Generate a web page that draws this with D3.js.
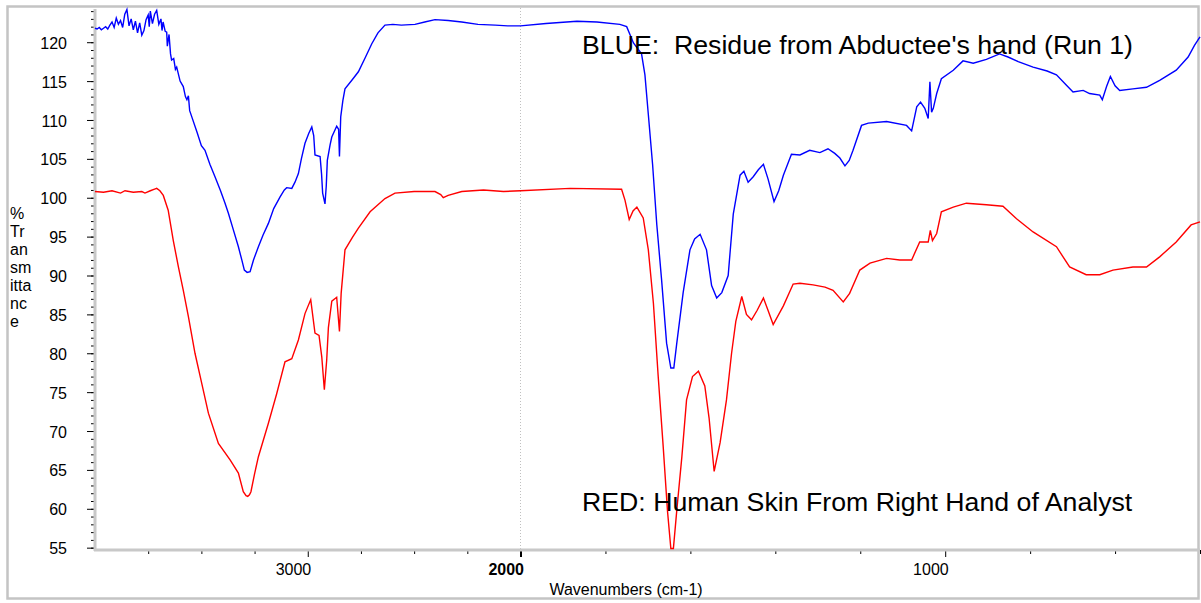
<!DOCTYPE html>
<html lang="en">
<head>
<meta charset="UTF-8">
<style>
    body { margin: 0; background: #fff; }
    svg { display: block; font-family: "Liberation Sans", Arial, sans-serif; }
    .tick text { font-size: 16px; fill: #000; }
</style>
</head>
<body>
<svg width="1201" height="603"></svg>
<script src="https://d3js.org/d3.v7.min.js"></script>
<script>

// ---- data ----
var blueWave = [4000,3990,3980,3970,3960,3950,3940,3930,3920,3910,3900,3890,3880,3870,3860,3850,3840,3830,3820,3810,3800,3790,3780,3770,3760,3750,3745,3740,3730,3720,3710,3700,3690,3685,3680,3670,3663,3660,3652,3645,3640,3630,3622,3616,3600,3585,3575,3568,3561,3555,3545,3520,3500,3483,3460,3436,3410,3390,3373,3350,3326,3310,3298,3285,3271,3255,3232,3210,3185,3160,3130,3110,3099,3075,3060,3044,3030,3013,2995,2981,2972,2966,2942,2935,2930,2919,2913,2908,2895,2887,2864,2855,2851,2845,2835,2825,2790,2762,2730,2699,2670,2637,2600,2560,2496,2450,2402,2340,2276,2200,2119,2060,2000,1940,1867,1820,1766,1750,1734,1715,1707,1699,1689,1679,1668,1656,1646,1639,1632,1617,1601,1590,1577,1562,1550,1538,1526,1511,1499,1483,1474,1464,1452,1440,1428,1417,1403,1392,1381,1362,1342,1319,1295,1276,1260,1248,1236,1226,1217,1197,1181,1138,1091,1079,1067,1058,1048,1040,1036,1032,1028,1020,1009,981,958,934,903,872,852,828,793,760,738,715,699,675,660,636,630,620,611,600,589,558,526,495,456,428,413,400];
var blueT = [121.8,121.7,121.9,121.6,121.8,122.0,121.7,122.2,122.6,121.9,123.1,122.3,122.8,121.9,123.6,124.2,122.1,123.0,121.6,122.7,121.2,122.5,120.9,121.5,122.9,123.5,122.0,124.0,122.4,123.6,124.1,122.3,123.0,121.5,122.6,121.4,121.3,119.5,121.0,118.5,117.7,117.9,116.5,116.8,115.0,114.3,113.0,112.6,113.1,111.2,110.4,108.4,106.7,106.1,104.3,102.7,100.9,99.4,98.0,95.9,93.7,92.0,90.7,90.4,90.5,92.0,93.7,95.2,96.7,98.6,100.1,101.0,101.3,101.2,102.0,103.1,105.0,107.0,108.3,109.1,108.0,105.5,105.3,103.0,100.6,99.2,101.5,104.8,106.8,107.8,109.2,108.8,105.3,110.4,112.5,114.0,115.2,116.2,118.0,119.8,121.2,122.2,122.3,122.2,122.3,122.6,122.9,122.8,122.6,122.3,122.2,122.1,122.1,122.4,122.7,122.6,122.3,122.0,119.9,118.5,115.8,110.7,104.3,96.5,89.6,81.3,78.1,78.1,81.3,87.8,93.3,94.7,95.3,93.3,88.7,87.1,87.8,90.0,97.9,102.9,103.4,102.0,102.7,103.6,104.3,102.4,99.5,100.9,102.9,105.6,105.5,106.1,105.8,106.3,105.7,105.1,104.1,104.8,106.1,109.3,109.6,109.8,109.3,108.6,111.7,112.3,111.5,110.2,114.9,111.0,111.5,113.4,115.3,116.4,117.6,117.3,117.8,118.5,118.1,117.5,116.8,116.3,115.8,114.5,113.6,113.8,113.4,113.2,112.6,114.3,115.6,114.4,113.8,114.0,114.2,115.1,116.4,118.1,119.6,120.7];

var redWave = [4000,3960,3920,3880,3859,3820,3780,3765,3740,3720,3710,3695,3679,3656,3632,3608,3585,3561,3530,3498,3467,3420,3365,3326,3303,3290,3282,3274,3267,3250,3232,3185,3146,3107,3075,3044,3013,2986,2966,2947,2934,2922,2911,2903,2887,2864,2851,2843,2825,2790,2762,2707,2637,2590,2500,2402,2375,2363,2340,2276,2174,2080,2000,1883,1762,1754,1744,1735,1726,1711,1699,1687,1676,1664,1654,1646,1640,1632,1620,1609,1595,1581,1566,1556,1544,1530,1515,1503,1493,1479,1468,1456,1443,1428,1417,1405,1381,1358,1342,1311,1283,1264,1240,1225,1201,1177,1138,1107,1079,1060,1040,1035,1030,1020,1009,981,950,903,864,832,793,738,707,668,636,605,558,526,495,456,421,400];
var redT = [100.8,100.7,100.9,100.6,100.9,100.7,100.8,100.6,100.9,101.1,101.2,100.9,100.3,98.4,94.5,91.1,88.1,84.7,80.0,76.1,72.3,68.4,66.3,64.6,62.2,61.7,61.6,61.8,62.2,64.5,66.7,71.0,74.8,78.9,79.3,81.7,85.1,86.9,82.6,82.3,79.5,75.3,79.1,83.3,86.7,87.2,82.8,87.7,93.3,94.9,96.1,98.2,99.9,100.6,100.8,100.8,100.4,100.0,100.3,100.8,101.0,100.8,100.9,101.2,101.1,99.7,97.2,98.3,98.8,97.4,93.3,86.4,77.2,68.0,59.8,54.9,54.9,59.8,66.7,74.0,77.0,77.7,75.8,71.7,64.8,68.5,74.0,80.0,84.1,87.3,85.0,84.3,85.5,87.1,85.5,83.7,86.1,88.9,89.0,88.8,88.5,88.1,86.6,87.7,90.7,91.6,92.2,92.0,92.0,94.3,94.3,95.8,94.5,95.4,98.2,98.8,99.3,99.1,98.9,97.3,95.6,93.7,91.1,90.1,90.1,90.7,91.1,91.1,92.4,94.3,96.5,96.9];

var yMajor = d3.range(55, 121, 5);
var yMinor = d3.range(55, 125, 1);
var xMajor = [3000, 2000, 1000];
var xMinor = [3750, 3500, 3250, 2750, 2500, 2250, 1800, 1600, 1400, 1200, 800, 600, 400];
var blueLabel = "BLUE:  Residue from Abductee's hand (Run 1)";
var redLabel = "RED: Human Skin From Right Hand of Analyst";

// ---- scales ----
// FTIR style axis: scale doubles below 2000
var x = d3.scaleLinear().domain([4000, 2000, 400]).range([95, 520.5, 1200]);
var y = d3.scaleLinear().domain([54.7, 124.4]).range([550, 8]);

var svg = d3.select("svg");

// outer frame
svg.append("rect")
    .attr("x", 7.5).attr("y", 6.5)
    .attr("width", 1191).attr("height", 592)
    .attr("fill", "none")
    .attr("stroke", "#c4c4c4")
    .attr("stroke-width", 2.5);

// dotted line at 2000
svg.append("line")
    .attr("x1", x(2000)).attr("x2", x(2000))
    .attr("y1", 8).attr("y2", 550)
    .attr("stroke", "#c0c0c0")
    .attr("stroke-dasharray", "1,2");

// y axis
svg.append("g")
    .attr("transform", "translate(95,0)")
    .call(d3.axisLeft(y).tickValues(yMinor).tickSize(4).tickFormat(""))
    .call(g => g.select(".domain").remove());
svg.append("g")
    .attr("transform", "translate(95,0)")
    .call(d3.axisLeft(y).tickValues(yMajor).tickSize(8).tickPadding(20))
    .call(g => g.select(".domain").remove())
    .selectAll("text").attr("dy", "0.38em");

// x axis
svg.append("g")
    .attr("transform", "translate(0,550)")
    .call(d3.axisBottom(x).tickValues(xMinor).tickSize(4).tickFormat(""))
    .call(g => g.select(".domain").remove());
var xg = svg.append("g")
    .attr("transform", "translate(0,550)")
    .call(d3.axisBottom(x).tickValues(xMajor).tickSize(7).tickFormat(d3.format("d")))
    .call(g => g.select(".domain").remove());
xg.selectAll("text")
    .attr("text-anchor", "end")
    .attr("x", 3)
    .attr("y", 25)
    .attr("dy", 0)
    .attr("font-weight", d => d == 2000 ? "bold" : "normal");
xg.selectAll("line").attr("stroke-width", d => d == 2000 ? 2 : 1);

// grey axis bars
svg.append("line")
    .attr("x1", 95).attr("x2", 95).attr("y1", 9).attr("y2", 551)
    .attr("stroke", "#c8c8c8").attr("stroke-width", 3);
svg.append("line")
    .attr("x1", 94).attr("x2", 1200).attr("y1", 550).attr("y2", 550)
    .attr("stroke", "#c8c8c8").attr("stroke-width", 3);

// spectra
var line = d3.line()
    .x(d => x(d[0]))
    .y(d => y(d[1]));

svg.append("path")
    .datum(d3.zip(redWave, redT))
    .attr("fill", "none")
    .attr("stroke", "#ff0000")
    .attr("stroke-width", 1.4)
    .attr("d", line);

svg.append("path")
    .datum(d3.zip(blueWave, blueT))
    .attr("fill", "none")
    .attr("stroke", "#0000ff")
    .attr("stroke-width", 1.4)
    .attr("d", line);

// annotations
svg.append("text")
    .attr("x", 582).attr("y", 54)
    .attr("font-size", 26.7)
    .attr("xml:space", "preserve")
    .style("white-space", "pre")
    .text(blueLabel);
svg.append("text")
    .attr("x", 582).attr("y", 511)
    .attr("font-size", 26.7)
    .text(redLabel);

// axis titles
svg.append("text")
    .attr("x", 626).attr("y", 595)
    .attr("text-anchor", "middle")
    .attr("font-size", 16)
    .text("Wavenumbers (cm-1)");

var yTitle = ["%", "Tr", "an", "sm", "itta", "nc", "e"];
svg.append("text")
    .attr("x", 10)
    .attr("font-size", 16)
    .selectAll("tspan")
    .data(yTitle)
    .join("tspan")
    .attr("x", 10)
    .attr("y", (d, i) => 219 + i * 18)
    .text(d => d);

</script>
</body>
</html>
